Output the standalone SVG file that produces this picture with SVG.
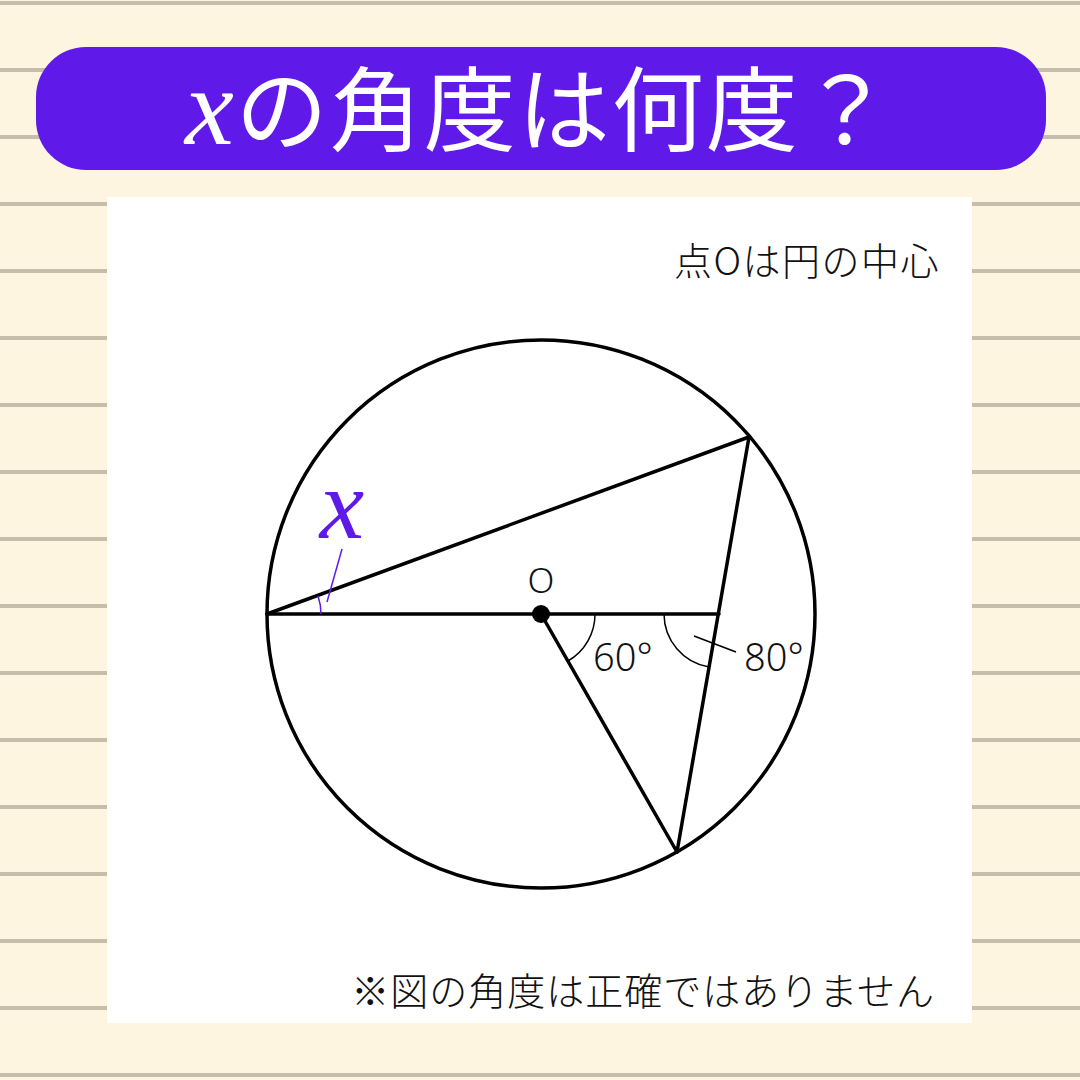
<svg xmlns="http://www.w3.org/2000/svg" width="1080" height="1080" viewBox="0 0 1080 1080">
<defs>
<style>
.rule{stroke:#C6BEAA;stroke-width:4}
.geo{fill:none;stroke:#000;stroke-width:3.5;stroke-linecap:round}
.thin{fill:none;stroke:#000;stroke-width:1.5}
.pur{fill:none;stroke:#5F1AEA;stroke-width:1.5}
.jp{font-family:"Noto Sans CJK JP","Noto Sans",sans-serif;font-weight:300;fill:#111}
.num{font-family:"Noto Sans","Liberation Sans",sans-serif;font-weight:300;fill:#111}
</style>
</defs>
<rect width="1080" height="1080" fill="#FDF5E0"/>
<g id="rules">
<line class="rule" x1="0" y1="3" x2="1080" y2="3"/>
<line class="rule" x1="0" y1="70" x2="1080" y2="70"/>
<line class="rule" x1="0" y1="137" x2="1080" y2="137"/>
<line class="rule" x1="0" y1="204" x2="1080" y2="204"/>
<line class="rule" x1="0" y1="271" x2="1080" y2="271"/>
<line class="rule" x1="0" y1="338" x2="1080" y2="338"/>
<line class="rule" x1="0" y1="405" x2="1080" y2="405"/>
<line class="rule" x1="0" y1="472" x2="1080" y2="472"/>
<line class="rule" x1="0" y1="539" x2="1080" y2="539"/>
<line class="rule" x1="0" y1="606" x2="1080" y2="606"/>
<line class="rule" x1="0" y1="673" x2="1080" y2="673"/>
<line class="rule" x1="0" y1="740" x2="1080" y2="740"/>
<line class="rule" x1="0" y1="807" x2="1080" y2="807"/>
<line class="rule" x1="0" y1="874" x2="1080" y2="874"/>
<line class="rule" x1="0" y1="941" x2="1080" y2="941"/>
<line class="rule" x1="0" y1="1008" x2="1080" y2="1008"/>
<line class="rule" x1="0" y1="1075" x2="1080" y2="1075"/>
</g>
<g id="title">
<rect x="36" y="47" width="1010" height="123" rx="50" fill="#5F1AEA"/>
<text x="185" y="144" font-size="92" letter-spacing="2" fill="#fff" font-family="'Noto Sans CJK JP',sans-serif"><tspan font-family="'Liberation Serif',serif" font-style="italic" font-size="110">x</tspan>の角度は何度？</text>
</g>
<rect id="panel" x="107" y="197" width="865" height="826" fill="#fff"/>
<text id="note-top" class="jp" x="940" y="275" font-size="38" letter-spacing="1.5" text-anchor="end">点Oは円の中心</text>
<text id="note-bottom" class="jp" x="935" y="1005" font-size="38" letter-spacing="1" text-anchor="end">※図の角度は正確ではありません</text>
<g id="connectors">
<circle class="geo" cx="541" cy="614" r="274"/>
<line class="geo" x1="267" y1="614" x2="719" y2="614"/>
<line class="geo" x1="267" y1="614" x2="749" y2="437"/>
<line class="geo" x1="749" y1="437" x2="677" y2="852"/>
<line class="geo" x1="541" y1="614" x2="677" y2="852"/>
<path class="thin" d="M595 614 A54 54 0 0 1 568 661"/>
<path class="thin" d="M664 614 A54 54 0 0 0 709 667"/>
<line class="thin" x1="694" y1="636" x2="736" y2="652"/>
<path class="pur" d="M321 614 A54 54 0 0 0 318 596"/>
<line class="pur" x1="327" y1="602" x2="342" y2="549"/>
</g>
<g id="node-O">
<circle cx="541" cy="614" r="9" fill="#000"/>
<text class="num" x="541" y="593" font-size="35" text-anchor="middle">O</text>
</g>
<text id="label-60" class="num" x="593" y="671" font-size="38">60°</text>
<text id="label-80" class="num" x="744" y="671" font-size="38">80°</text>
<text id="label-x" x="342" y="538" font-size="100" fill="#5F1AEA" font-family="'Liberation Serif',serif" font-style="italic" text-anchor="middle">x</text>
</svg>
